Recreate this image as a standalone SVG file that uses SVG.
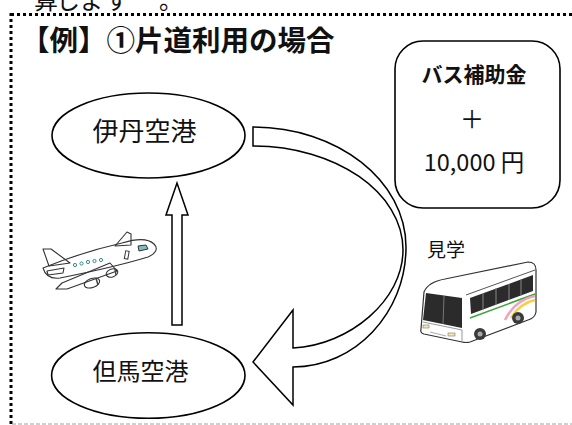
<svg xmlns="http://www.w3.org/2000/svg" width="572" height="425" viewBox="0 0 572 425">
<style>
.jp{font-family:"Noto Sans CJK JP","Noto Sans CJK SC",sans-serif;fill:#111}
.node{fill:#fff;stroke:#000;stroke-width:1.6}
.conn{fill:#fff;stroke:#000;stroke-width:1.5;stroke-linejoin:miter}
.ln{fill:none;stroke:#333;stroke-width:1.1;stroke-linejoin:round}
</style>
<rect width="572" height="425" fill="#fff"/>

<!-- cut-off text at top -->
<text class="jp" x="34 56 79 105 159" y="9" font-size="24" fill="#222">算します。</text>

<!-- frame -->
<g id="frame">
  <line x1="11" y1="14.5" x2="572" y2="14.5" stroke="#000" stroke-width="3" stroke-dasharray="3 3"/>
  <line x1="11" y1="13" x2="11" y2="425" stroke="#000" stroke-width="3" stroke-dasharray="3 3"/>
  <line x1="12" y1="424" x2="572" y2="424" stroke="#a0a0a0" stroke-width="1" stroke-dasharray="4 2"/>
</g>

<text id="title" class="jp" x="21" y="51" font-size="28.5" font-weight="bold">【例】①片道利用の場合</text>

<!-- connectors -->
<g id="connectors">
  <path class="conn" d="M253,127 C337.5,127 406,180.8 406,247 C406,313 355,367 293,367 L293,405 L253,362 L293,310 L293,348 C350,345 403,300 403,250 C403,192.6 335.8,146 253,146 Z"/>
  <path class="conn" d="M172,325 L172,215 L166,215 L177,183 L188,215 L182,215 L182,325 Z"/>
</g>

<g id="node-itami">
  <ellipse class="node" cx="148.5" cy="135.5" rx="96.5" ry="42.5"/>
  <text class="jp" x="144.5" y="141" font-size="26" text-anchor="middle">伊丹空港</text>
</g>

<g id="node-tajima">
  <ellipse class="node" cx="148.3" cy="375.5" rx="96.7" ry="42.8"/>
  <text class="jp" x="140.5" y="380" font-size="24" text-anchor="middle">但馬空港</text>
</g>

<g id="node-subsidy">
  <rect class="node" x="395" y="41" width="165" height="167" rx="28" ry="28"/>
  <text class="jp" x="474" y="82" font-size="21" font-weight="bold" text-anchor="middle">バス補助金</text>
  <text class="jp" x="472" y="128" font-size="24" text-anchor="middle">＋</text>
  <text class="jp" x="474" y="171" font-size="23.5" text-anchor="middle">10,000 円</text>
</g>

<g id="label-kengaku">
  <text class="jp" x="427" y="257" font-size="19">見学</text>
</g>

<!-- airplane illustration -->
<g id="airplane">
  <path class="ln" fill="#fff" d="M115,246 L127,232 L131,234 L131,245 Z"/>
  <path class="ln" fill="#fff" d="M43,249 L51,249 L70,263 L49,266 Z"/>
  <path class="ln" fill="#fff" d="M43,268 C70,257 100,248 122,243 C135,239 148,238 154,244 C159,249 155,254 148,257 C125,264 95,271 60,278 C51,279 45,275 43,268 Z"/>
  <path class="ln" fill="#fff" d="M47,271 L64,268 L63,273 L48,275 Z"/>
  <path class="ln" fill="#fff" d="M110,263 L62,283 L56,289 L67,289 L117,271 Z"/>
  <ellipse class="ln" fill="#fff" cx="92" cy="283" rx="8" ry="4.5" transform="rotate(-20 92 283)"/>
  <line x1="96" y1="278" x2="98" y2="285" stroke="#444" stroke-width="1.5"/>
  <ellipse class="ln" fill="#fff" cx="112" cy="273" rx="6" ry="4" transform="rotate(-20 112 273)"/>
  <line x1="115" y1="269" x2="116" y2="275" stroke="#444" stroke-width="1.5"/>
  <g fill="#fff" stroke="#3a8a8a" stroke-width="1">
    <circle cx="75" cy="265" r="1.6"/>
    <circle cx="81.5" cy="263.5" r="1.6"/>
    <circle cx="88" cy="262" r="1.6"/>
    <circle cx="94.5" cy="261" r="1.6"/>
    <circle cx="101" cy="260" r="1.6"/>
  </g>
  <rect x="125" y="251" width="3.5" height="8" fill="#fff" stroke="#333" stroke-width="1" transform="rotate(10 127 255)"/>
  <path d="M138,246 L146,245 L148,249 L139,251 Z" fill="#7fbfbf" stroke="#333" stroke-width="1"/>
</g>

<!-- bus illustration -->
<g id="bus">
  <path d="M424,292 Q428,282 445,279 L528,262 Q536,262 536,270 L536,312 Q535,318 528,320 L470,342 Q466,343 462,342 L424,334 Q420,333 421,329 Z" fill="#fff" stroke="#333" stroke-width="1.2"/>
  <path d="M466,295 L535,270" stroke="#555" stroke-width="1" fill="none"/>
  <path d="M426,293 L462,298 L462,328 L423,320 Z" fill="#2b2b2b"/>
  <line x1="444" y1="296" x2="443" y2="324" stroke="#777" stroke-width="1"/>
  <path d="M470,298 L533,275 L533,291 L471,314 Z" fill="#2b2b2b"/>
  <g stroke="#888" stroke-width="1">
    <line x1="483" y1="293" x2="483" y2="310"/>
    <line x1="496" y1="288" x2="496" y2="305"/>
    <line x1="509" y1="284" x2="509" y2="300"/>
    <line x1="521" y1="279" x2="521" y2="296"/>
  </g>
  <path d="M470,318 L535,294" stroke="#3aa53a" stroke-width="1.6" fill="none"/>
  <path d="M505,320 Q515,300 535,296" stroke="#f2a0c0" stroke-width="2.5" fill="none"/>
  <path d="M511,318 Q520,303 535,300" stroke="#f5d040" stroke-width="2.5" fill="none"/>
  <path d="M423,322 L462,330 L462,341" stroke="#999" stroke-width="1" fill="none"/>
  <rect x="423" y="325" width="6" height="3" fill="#f5e9a0" stroke="#777" stroke-width="0.6"/>
  <rect x="448" y="333" width="7" height="3" fill="#f5e9a0" stroke="#777" stroke-width="0.6"/>
  <line x1="430" y1="332" x2="446" y2="336" stroke="#aaa" stroke-width="1"/>
  <circle cx="480" cy="334" r="6" fill="#3a3a3a"/>
  <circle cx="480" cy="334" r="2.5" fill="#aaa"/>
  <circle cx="518" cy="318" r="6" fill="#3a3a3a"/>
  <circle cx="518" cy="318" r="2.5" fill="#aaa"/>
</g>
</svg>
